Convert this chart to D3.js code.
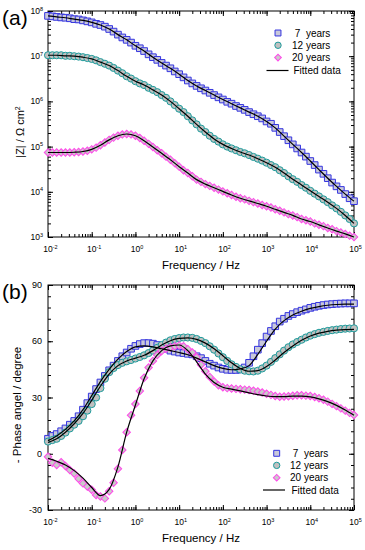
<!DOCTYPE html>
<html>
<head>
<meta charset="utf-8">
<script src="https://cdn.jsdelivr.net/npm/d3@7"></script>
<style>
  body { margin: 0; background: #fff; }
</style>
</head>
<body>
<script>
var width = 365,
    height = 550;

// measured frequencies (Hz), 10 points per decade
var freq = [0.01,0.0126,0.0158,0.02,0.0251,0.0316,0.0398,0.0501,0.0631,0.0794,
    0.1,0.126,0.158,0.2,0.251,0.316,0.398,0.501,0.631,0.794,
    1,1.26,1.58,2,2.51,3.16,3.98,5.01,6.31,7.94,
    10,12.6,15.8,20,25.1,31.6,39.8,50.1,63.1,79.4,
    100,126,158,200,251,316,398,501,631,794,
    1000,1260,1580,2000,2510,3160,3980,5010,6310,7940,
    10000,12600,15800,20000,25100,31600,39800,50100,63100,79400,
    100000];

// |Z| (ohm cm2)
var z7 = [7.8e7,7.6e7,7.4e7,7.2e7,7.1e7,6.9e7,6.6e7,6.5e7,6.2e7,5.9e7,
    5.6e7,5.2e7,4.9e7,4.5e7,4.0e7,3.5e7,3.0e7,2.6e7,2.3e7,2.0e7,
    1.7e7,1.5e7,1.3e7,1.1e7,9.5e6,8.3e6,7.1e6,6.2e6,5.4e6,4.6e6,
    4.0e6,3.4e6,2.9e6,2.5e6,2.2e6,1.95e6,1.74e6,1.55e6,1.38e6,1.23e6,
    1.10e6,9.8e5,8.9e5,7.9e5,7.2e5,6.5e5,5.8e5,5.2e5,4.7e5,4.2e5,
    3.6e5,3.2e5,2.6e5,2.1e5,1.7e5,1.38e5,1.12e5,9.1e4,7.4e4,6.0e4,
    4.8e4,3.9e4,3.1e4,2.5e4,2.0e4,1.6e4,1.32e4,1.10e4,8.9e3,7.2e3,
    6.2e3];
var z12 = [1.05e7,1.05e7,1.05e7,1.05e7,1.02e7,1.02e7,1.0e7,9.8e6,9.5e6,9.1e6,
    8.7e6,8.1e6,7.4e6,6.8e6,6.2e6,5.5e6,4.8e6,4.2e6,3.6e6,3.2e6,
    2.8e6,2.5e6,2.3e6,2.0e6,1.8e6,1.6e6,1.38e6,1.2e6,1.0e6,8.3e5,
    6.9e5,5.8e5,4.7e5,3.8e5,3.1e5,2.5e5,2.1e5,1.74e5,1.48e5,1.29e5,
    1.12e5,1.0e5,9.1e4,8.3e4,7.6e4,7.1e4,6.5e4,5.9e4,5.4e4,4.9e4,
    4.4e4,3.9e4,3.5e4,3.0e4,2.6e4,2.2e4,1.9e4,1.66e4,1.41e4,1.23e4,
    1.05e4,9.1e3,7.9e3,6.8e3,5.9e3,5.0e3,4.3e3,3.6e3,3.0e3,2.5e3,
    2.0e3];
var z20 = [7.4e4,7.4e4,7.4e4,7.4e4,7.4e4,7.4e4,7.5e4,7.6e4,7.8e4,8.1e4,
    8.7e4,9.5e4,1.07e5,1.23e5,1.41e5,1.58e5,1.74e5,1.86e5,1.9e5,1.86e5,
    1.74e5,1.55e5,1.35e5,1.15e5,9.8e4,8.3e4,7.1e4,6.0e4,5.1e4,4.3e4,
    3.6e4,3.0e4,2.6e4,2.2e4,1.86e4,1.66e4,1.48e4,1.35e4,1.23e4,1.12e4,
    1.02e4,9.3e3,8.5e3,7.8e3,7.2e3,6.8e3,6.3e3,5.9e3,5.5e3,5.1e3,
    4.8e3,4.5e3,4.1e3,3.8e3,3.5e3,3.2e3,3.0e3,2.75e3,2.5e3,2.35e3,
    2.2e3,2.0e3,1.86e3,1.74e3,1.58e3,1.48e3,1.35e3,1.26e3,1.17e3,1.07e3,
    1.0e3];

// - phase angle (degree)
var ph7 = [8,9.5,10.5,12,13.5,15.5,17.5,20,23.5,27,
    30.5,34.5,38,41.5,44.5,47,49.5,52,54,56,
    57.5,58.5,59,59,58.7,58,57,56,55,54.5,
    54,53.7,53.3,53,52,51,49.5,48,47,46,
    45.3,44.8,44.7,44.7,45,46,48.5,52,55.5,59,
    62.5,65.5,68,70.5,72,73.5,74.5,75.5,76.3,77,
    77.8,78.4,78.9,79.3,79.6,79.8,80,80.1,80.2,80.2,
    80.2];
var ph12 = [6.5,7.3,8,9.5,11.3,13.5,15.5,17.5,20,23,
    26.5,30,35,40,43.5,45.7,47.3,48.5,49.3,50,
    50.8,51.6,52.5,53.7,55,56.5,58,59.3,60.5,61.2,
    61.7,62,62,61.8,61.2,60.2,59,57.3,55.5,53.5,
    51.5,49.5,47.7,46.3,45,44.3,44,43.9,44.3,45.5,
    47,49,51,53,55,56.8,58.3,59.6,60.8,62,
    63,63.8,64.5,65,65.5,65.9,66.2,66.5,66.7,66.8,
    66.9];
var ph20 = [-1.6,-4.8,-6,-4.5,-6.5,-8.7,-10.5,-13.3,-15.8,-17.5,
    -19.2,-22,-22.8,-23.8,-20,-15.5,-8,2,11.5,20.5,
    26.5,33.5,40.5,46,49.5,52.7,54.8,56,56.8,57.3,
    57.8,57.3,55.8,54,51.5,47.5,44,41,38.5,36.5,
    35.5,35,34.8,34.6,34.4,34.2,34,33.6,33.2,32.7,
    32,31.4,30.8,30.4,30.5,30.7,30.9,31.2,31.2,31,
    30.8,30.3,29.6,28.8,27.8,26.6,25.4,24.2,23,21.8,
    20.7];

// fitted curves, 5 points per decade
var fitFreq = [0.01,0.0158,0.0251,0.0398,0.0631,0.1,0.158,0.251,0.398,0.631,
    1,1.58,2.51,3.98,6.31,10,15.8,25.1,39.8,63.1,
    100,158,251,398,631,1000,1580,2510,3980,6310,
    10000,15800,25100,39800,63100,100000];
var fitZ7 = [7.8e7,7.4e7,7.1e7,6.6e7,6.2e7,5.6e7,4.9e7,4.0e7,3.0e7,2.3e7,
    1.7e7,1.3e7,9.5e6,7.1e6,5.4e6,4.0e6,2.9e6,2.2e6,1.74e6,1.38e6,
    1.10e6,8.9e5,7.2e5,5.8e5,4.7e5,3.6e5,2.6e5,1.7e5,1.12e5,7.4e4,
    4.8e4,3.1e4,2.0e4,1.32e4,8.9e3,6.2e3];
var fitZ12 = [1.05e7,1.05e7,1.02e7,1.0e7,9.5e6,8.7e6,7.4e6,6.2e6,4.8e6,3.6e6,
    2.8e6,2.3e6,1.8e6,1.38e6,1.0e6,6.9e5,4.7e5,3.1e5,2.1e5,1.48e5,
    1.12e5,9.1e4,7.6e4,6.5e4,5.4e4,4.4e4,3.5e4,2.6e4,1.9e4,1.41e4,
    1.05e4,7.9e3,5.9e3,4.3e3,3.0e3,2.0e3];
var fitZ20 = [7.4e4,7.4e4,7.4e4,7.5e4,7.8e4,8.7e4,1.07e5,1.41e5,1.74e5,1.9e5,
    1.74e5,1.35e5,9.8e4,7.1e4,5.1e4,3.6e4,2.6e4,1.86e4,1.48e4,1.23e4,
    1.02e4,8.5e3,7.2e3,6.3e3,5.5e3,4.8e3,4.1e3,3.5e3,3.0e3,2.5e3,
    2.2e3,1.86e3,1.58e3,1.35e3,1.17e3,1.0e3];
var fitPh7 = [7,9.5,13,17.5,23.5,31,38.5,45,50.5,54.5,
    57,57.5,57,56,55,54,52.8,51,49,47,
    45.5,44.8,45.3,47,53,60,66.5,71,74,76,
    77.5,78.5,79.2,79.6,79.8,79.8];
var fitPh12 = [6,8,11.5,16,21.5,28.5,36,42.5,47,49.5,
    51,52.5,55,58,60.3,61.5,61.8,61,59,56,
    52.3,48.5,45.5,44,44.3,46.5,50,54,57.5,60.5,
    62.8,64.3,65.3,65.9,66.2,66.3];
var fitPh20 = [-2.5,-4,-6,-9,-13,-18,-22.3,-19,-7,11.5,
    26,40,49.5,55,57.5,58,55,49,42.5,38,
    35.5,34.5,33.5,32.5,31.5,30.8,30.5,30.5,30.7,30.7,
    30.3,29.3,27.8,25.8,23.3,20.5];

var seriesNames = [' 7  years', '12 years', '20 years'];
var fitName = 'Fitted data';
var freqTicks = [1e-2, 1e-1, 1, 10, 100, 1e3, 1e4, 1e5];
var freqExp = ['-2', '-1', '0', '1', '2', '3', '4', '5'];
var zTicks = [1e3, 1e4, 1e5, 1e6, 1e7, 1e8];
var zExp = ['3', '4', '5', '6', '7', '8'];
var phTicks = [-30, 0, 30, 60, 90];

var styles = [
    {shape: d3.symbolSquare, size: 44, rot: 0, stroke: '#3535df', fill: '#c8c8da'},
    {shape: d3.symbolCircle, size: 40, rot: 0, stroke: '#1c9c9c', fill: '#c0c0c0'},
    {shape: d3.symbolSquare, size: 28, rot: 45, stroke: '#ff48ea', fill: '#cacaca'}
];

var svg = d3.select('body').append('svg')
    .attr('width', width)
    .attr('height', height)
    .style('font-family', '"Liberation Sans", Arial, sans-serif');

var x = d3.scaleLog().domain([1e-2, 1e5]).range([48, 354]);
var yA = d3.scaleLog().domain([1e3, 1e8]).range([237, 11]);
var yB = d3.scaleLinear().domain([-30, 90]).range([510, 285]);

function tickAxis(axis, scale, pos, values, size) {
    var g = svg.append('g')
        .attr('transform', pos)
        .call(axis(scale).tickValues(values).tickSize(size).tickFormat(''));
    g.select('.domain').remove();
    g.selectAll('line').attr('stroke', '#000');
}

function frame(y, yMajor, yMinor) {
    var top = y.range()[1], bottom = y.range()[0];
    var l = x.range()[0], r = x.range()[1];
    tickAxis(d3.axisBottom, x, 'translate(0,' + bottom + ')', x.ticks(), -3);
    tickAxis(d3.axisBottom, x, 'translate(0,' + bottom + ')', freqTicks, -5);
    tickAxis(d3.axisTop, x, 'translate(0,' + top + ')', x.ticks(), -3);
    tickAxis(d3.axisTop, x, 'translate(0,' + top + ')', freqTicks, -5);
    tickAxis(d3.axisLeft, y, 'translate(' + l + ',0)', yMinor, -3);
    tickAxis(d3.axisLeft, y, 'translate(' + l + ',0)', yMajor, -5);
    tickAxis(d3.axisRight, y, 'translate(' + r + ',0)', yMinor, -3);
    tickAxis(d3.axisRight, y, 'translate(' + r + ',0)', yMajor, -5);
    svg.append('rect')
        .attr('x', l).attr('y', top)
        .attr('width', r - l).attr('height', bottom - top)
        .attr('fill', 'none').attr('stroke', '#000').attr('stroke-width', 1);

    // frequency tick labels 10^n
    svg.append('g').selectAll('text').data(freqTicks).join('text')
        .attr('x', function (d) { return x(d) - 4.7; })
        .attr('y', bottom + 15)
        .attr('font-size', 8.5)
        .each(function (d, i) {
            var t = d3.select(this);
            t.append('tspan').text('10');
            t.append('tspan').attr('dy', -3.5).attr('font-size', 5.5).text(freqExp[i]);
        });

    svg.append('text')
        .attr('x', (l + r) / 2)
        .attr('y', bottom + 32)
        .attr('text-anchor', 'middle')
        .attr('font-size', 11.5)
        .text('Frequency / Hz');
}

function markers(y, xs, ys, s) {
    svg.append('g').selectAll('path').data(ys).join('path')
        .attr('d', d3.symbol(s.shape, s.size))
        .attr('transform', function (d, i) {
            return 'translate(' + x(xs[i]) + ',' + y(d) + ') rotate(' + s.rot + ')';
        })
        .attr('fill', s.fill)
        .attr('stroke', s.stroke)
        .attr('stroke-width', 1);
}

function fitLine(y, vals) {
    var line = d3.line()
        .x(function (d, i) { return x(fitFreq[i]); })
        .y(function (d) { return y(d); })
        .curve(d3.curveMonotoneX);
    svg.append('path')
        .datum(vals)
        .attr('d', line)
        .attr('fill', 'none')
        .attr('stroke', '#000')
        .attr('stroke-width', 1.2);
}

function legend(mx, lx, rows, lineX0, lineX1) {
    var g = svg.append('g').attr('font-size', 10);
    styles.forEach(function (s, i) {
        g.append('path')
            .attr('d', d3.symbol(s.shape, s.size * 0.8))
            .attr('transform', 'translate(' + mx + ',' + rows[i] + ') rotate(' + s.rot + ')')
            .attr('fill', s.fill).attr('stroke', s.stroke);
        g.append('text')
            .attr('x', lx).attr('y', rows[i] + 3.6)
            .style('white-space', 'pre')
            .text(seriesNames[i]);
    });
    g.append('line')
        .attr('x1', lineX0).attr('x2', lineX1)
        .attr('y1', rows[3]).attr('y2', rows[3])
        .attr('stroke', '#000').attr('stroke-width', 1.2);
    g.append('text')
        .attr('x', lx + 1.5).attr('y', rows[3] + 3.6)
        .text(fitName);
}

// ---------- panel (a) ----------
frame(yA, zTicks, yA.ticks());

svg.append('g').selectAll('text').data(zTicks).join('text')
    .attr('x', 43)
    .attr('y', function (d) { return yA(d) + 3; })
    .attr('text-anchor', 'end')
    .attr('font-size', 8.5)
    .each(function (d, i) {
        var t = d3.select(this);
        t.append('tspan').text('10');
        t.append('tspan').attr('dy', -3.5).attr('font-size', 5.5).text(zExp[i]);
    });

markers(yA, freq, z7, styles[0]);
markers(yA, freq, z12, styles[1]);
markers(yA, freq, z20, styles[2]);
fitLine(yA, fitZ7);
fitLine(yA, fitZ12);
fitLine(yA, fitZ20);

var zTitle = svg.append('text')
    .attr('transform', 'translate(24,' + 132 + ') rotate(-90)')
    .attr('text-anchor', 'middle')
    .attr('font-size', 11);
zTitle.append('tspan').text('|Z| / \u03A9 cm');
zTitle.append('tspan').attr('dy', -4).attr('font-size', 7).text('2');

legend(278, 292, [33, 45.3, 57.6, 70.5], 266.5, 288.5);

svg.append('text').attr('x', 2).attr('y', 25).attr('font-size', 21).text('(a)');

// ---------- panel (b) ----------
frame(yB, phTicks, d3.range(-30, 91, 6));

svg.append('g').selectAll('text').data(phTicks).join('text')
    .attr('x', 42)
    .attr('y', function (d) { return yB(d) + 3.2; })
    .attr('text-anchor', 'end')
    .attr('font-size', 9)
    .text(function (d) { return d; });

markers(yB, freq, ph7, styles[0]);
markers(yB, freq, ph12, styles[1]);
markers(yB, freq, ph20, styles[2]);
fitLine(yB, fitPh7);
fitLine(yB, fitPh12);
fitLine(yB, fitPh20);

svg.append('text')
    .attr('transform', 'translate(21,' + 405 + ') rotate(-90)')
    .attr('text-anchor', 'middle')
    .attr('font-size', 11.5)
    .text('- Phase angel / degree');

legend(276.7, 290, [453.3, 465.4, 477.7, 490], 263, 285);

svg.append('text').attr('x', 2).attr('y', 299).attr('font-size', 21).text('(b)');
</script>
</body>
</html>
